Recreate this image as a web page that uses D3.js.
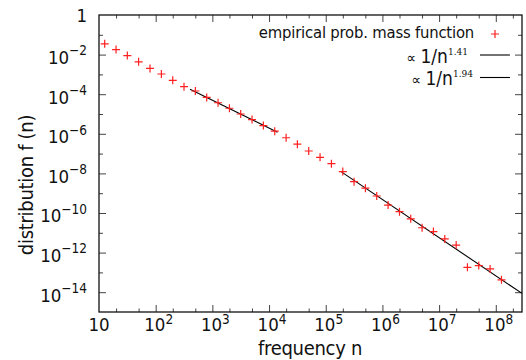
<!DOCTYPE html>
<html>
<head>
<meta charset="utf-8">
<script src="https://cdn.jsdelivr.net/npm/d3@7"></script>
<style>
  body { margin: 0; background: #fff; }
  svg text { font-family: 'DejaVu Sans Condensed', 'DejaVu Sans', sans-serif; font-stretch: condensed; fill: #111; }
</style>
</head>
<body>
<svg id="chart" width="526" height="360"></svg>
<script>
// frequency bins n and empirical probability mass f(n)
const freq = [12.6, 20, 31.6, 50, 79.4, 126, 200, 316, 501, 794, 1260, 2000, 3160, 5010, 7940,
  12600, 20000, 31600, 50100, 79400, 126000, 200000, 316000, 501000, 794000, 1260000, 2000000,
  3160000, 5010000, 7940000, 12600000, 20000000, 31600000, 50100000, 79400000, 126000000];
const pmf = [3.5e-2, 1.8e-2, 8.9e-3, 4.3e-3, 2.0e-3, 1.05e-3, 5.0e-4, 2.4e-4, 1.45e-4, 6.9e-5,
  3.7e-5, 1.95e-5, 1.0e-5, 5.2e-6, 2.6e-6, 1.35e-6, 6.3e-7, 3.0e-7, 1.35e-7, 6.5e-8, 3.1e-8,
  1.23e-8, 3.8e-9, 1.8e-9, 7.2e-10, 2.5e-10, 1.17e-10, 5.1e-11, 1.8e-11, 1.15e-11, 4.9e-12,
  2.4e-12, 1.8e-13, 2.2e-13, 1.5e-13, 4.2e-14];

// fitted power laws (endpoints of each drawn segment)
const fit1 = [[403, 1.78e-4], [14100, 1.2e-6]];
const fit2 = [[186000, 1.23e-8], [2.9e8, 8.7e-15]];
const fitExponents = ['1.41', '1.94'];

const xMajor = [10, 1e2, 1e3, 1e4, 1e5, 1e6, 1e7, 1e8];
const xMinor = [20, 50, 200, 500, 2e3, 5e3, 2e4, 5e4, 2e5, 5e5, 2e6, 5e6, 2e7, 5e7, 2e8];
const yMajor = [1, 1e-2, 1e-4, 1e-6, 1e-8, 1e-10, 1e-12, 1e-14];
const yMinor = [1e-1, 1e-3, 1e-5, 1e-7, 1e-9, 1e-11, 1e-13, 1e-15];

const svg = d3.select('#chart');
const margin = { top: 15, right: 4, bottom: 48, left: 99 };
const width = 526 - margin.left - margin.right;
const height = 360 - margin.top - margin.bottom;

const x = d3.scaleLog().domain([10, 2.9e8]).range([0, width]);
const y = d3.scaleLog().domain([1e-15, 1]).range([height, 0]);

const g = svg.append('g').attr('transform', `translate(${margin.left},${margin.top})`);

// ticks on all four sides, pointing inward
function ticks(axis, vals, size, transform) {
  const a = g.append('g').attr('transform', transform)
    .call(axis.tickValues(vals).tickSize(size).tickFormat(''));
  a.select('.domain').remove();
  a.selectAll('line').attr('stroke', '#444').attr('stroke-width', 1);
}
ticks(d3.axisBottom(x), xMajor.slice(1), -7, `translate(0,${height})`);
ticks(d3.axisBottom(x), xMinor, -3.5, `translate(0,${height})`);
ticks(d3.axisTop(x), xMajor.slice(1), -7, 'translate(0,0)');
ticks(d3.axisTop(x), xMinor, -3.5, 'translate(0,0)');
ticks(d3.axisLeft(y), yMajor.slice(1), -7, 'translate(0,0)');
ticks(d3.axisLeft(y), yMinor.slice(0, -1), -4, 'translate(0,0)');
ticks(d3.axisRight(y), yMajor.slice(1), -7, `translate(${width},0)`);
ticks(d3.axisRight(y), yMinor.slice(0, -1), -4, `translate(${width},0)`);

g.append('rect').attr('width', width).attr('height', height)
  .attr('fill', 'none').attr('stroke', '#111').attr('stroke-width', 1.3);

// tick labels with superscript exponents
function label(sel, v, neg) {
  const p = Math.round(Math.log10(v));
  if (Math.abs(p) === 0 || (!neg && p === 1)) {
    sel.text(neg ? '1' : '10');
    return;
  }
  sel.append('tspan').text('10');
  sel.append('tspan').attr('dy', neg ? -8.5 : -7).attr('font-size', 13.5)
    .text(neg ? '\u2212' + (-p) : p);
}
xMajor.forEach(v => {
  const t = g.append('text').attr('x', x(v) + (v === 10 ? 0 : 3)).attr('y', height + 19)
    .attr('text-anchor', 'middle').attr('font-size', 18.5);
  label(t, v, false);
});
yMajor.forEach(v => {
  const t = g.append('text').attr('x', -12).attr('y', y(v) + (v === 1 ? 6.5 : 9.3))
    .attr('text-anchor', 'end').attr('font-size', 18.5);
  label(t, v, true);
});

svg.append('text').attr('x', 310).attr('y', 355).attr('text-anchor', 'middle')
  .attr('font-size', 20).attr('letter-spacing', -0.3).text('frequency n');
svg.append('text').attr('transform', 'translate(33,185) rotate(-90)').attr('text-anchor', 'middle')
  .attr('font-size', 20).attr('letter-spacing', -0.3).text('distribution f (n)');

// fit lines
const line = d3.line().x(d => x(d[0])).y(d => y(d[1]));
g.append('clipPath').attr('id', 'clip').append('rect').attr('width', width).attr('height', height);
[fit1, fit2].forEach(f => {
  g.append('path').datum(f).attr('d', line).attr('clip-path', 'url(#clip)')
    .attr('fill', 'none').attr('stroke', '#000').attr('stroke-width', 1.1);
});

// data markers
const pts = g.selectAll('.pt').data(freq.map((n, i) => [n, pmf[i]])).enter();
pts.append('path').attr('transform', d => `translate(${x(d[0])},${y(d[1])})`)
  .attr('d', 'M-4,0H4M0,-4V4').attr('stroke', '#ff2020').attr('stroke-width', 1.2).attr('fill', 'none');

// legend
const lg = svg.append('g');
lg.append('text').attr('x', 474).attr('y', 38).attr('text-anchor', 'end')
  .attr('font-size', 16.5).attr('letter-spacing', -0.2).text('empirical prob. mass function');
lg.append('path').attr('transform', 'translate(495,34)').attr('d', 'M-4,0H4M0,-4V4')
  .attr('stroke', '#ff2020').attr('stroke-width', 1.2);
fitExponents.forEach((e, i) => {
  const yy = 62.5 + i * 22.5;
  const t = lg.append('text').attr('x', i === 0 ? 468 : 473).attr('y', yy).attr('text-anchor', 'end');
  t.append('tspan').attr('font-size', 15).text('\u221d ');
  t.append('tspan').attr('font-size', 19).text('1/n');
  t.append('tspan').attr('dy', -8).attr('font-size', 10)
    .attr('style', "font-family:'DejaVu Serif',serif").text(e);
  lg.append('line').attr('x1', 480).attr('x2', 510).attr('y1', yy - 7.5).attr('y2', yy - 7.5)
    .attr('stroke', '#000').attr('stroke-width', 1.1);
});
</script>
</body>
</html>
